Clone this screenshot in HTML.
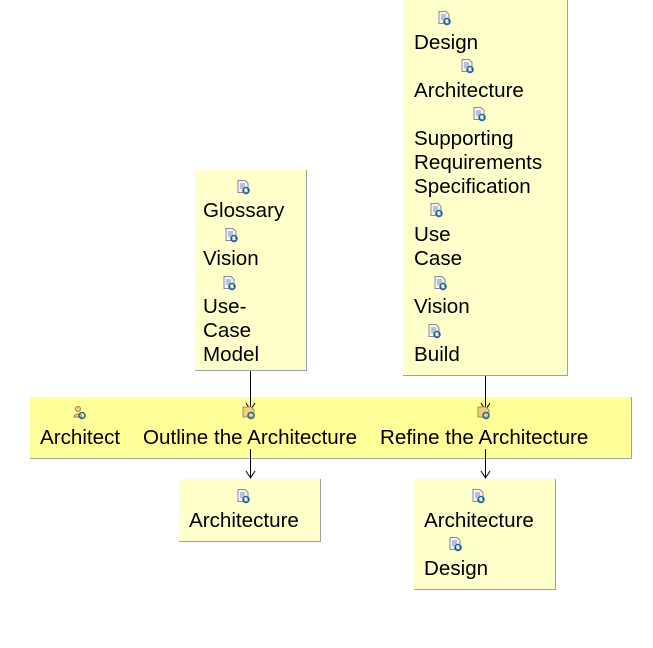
<!DOCTYPE html>
<html><head><meta charset="utf-8"><style>
body{margin:0;width:653px;height:648px;background:#fff;position:relative;overflow:hidden;font-family:"Liberation Sans",sans-serif;}
.b{position:absolute;background:#FFFFCC;border-right:1px solid #a0a0a0;border-bottom:1px solid #a0a0a0;box-sizing:border-box;}
.lane{position:absolute;left:30px;top:397px;width:602px;height:62px;background:#FFFF99;border-right:1px solid #a0a0a0;border-bottom:1px solid #a0a0a0;box-sizing:border-box;}
.t{position:absolute;font-size:20.6px;line-height:24px;color:#000;white-space:nowrap;}
.i{position:absolute;width:14px;height:15px;}
.l{position:absolute;width:1px;background:#000;}
</style></head><body>
<svg width="0" height="0" style="position:absolute"><defs>
<g id="doc"><path d="M1 0.5h7l3 3v9H1z" fill="#f4f4f4" stroke="#8a8a9a"/><path d="M3 4h5M3 6h5M3 8h4" stroke="#7a8ac0"/><circle cx="9" cy="10.5" r="3" fill="none" stroke="#1a6a9a" stroke-width="1.5"/><path d="M6 10l1.5 1.5M12 11l-1.5-1.5" stroke="#1a4a7a"/></g>
<g id="task"><path d="M1 2h8l3 3v7H1z" fill="#f0d080" stroke="#b09040"/><circle cx="9" cy="10.5" r="3" fill="none" stroke="#1a6a9a" stroke-width="1.5"/></g>
<g id="role"><circle cx="5" cy="4" r="2.5" fill="#f0d080" stroke="#a08030"/><path d="M1 12c0-4 8-4 8 0z" fill="#f0d080" stroke="#a08030"/><circle cx="9" cy="10.5" r="3" fill="none" stroke="#1a6a9a" stroke-width="1.5"/></g>
</defs></svg>

<div class="b" style="left:195px;top:170px;width:112px;height:201px"></div>
<div class="b" style="left:403px;top:0;width:165px;height:376px"></div>
<div class="lane"></div>
<div class="b" style="left:179px;top:479px;width:142px;height:63px"></div>
<div class="b" style="left:414px;top:479px;width:142px;height:111px"></div>

<div class="l" style="left:250px;top:371px;height:38px"></div>
<div class="l" style="left:485px;top:376px;height:33px"></div>
<div class="l" style="left:250px;top:449px;height:28px"></div>
<div class="l" style="left:485px;top:449px;height:28px"></div>
<svg style="position:absolute;left:0;top:0" width="653" height="648">
<path d="M246 403l4.5 7 4.5-7M481 403l4.5 7 4.5-7M246 471l4.5 7 4.5-7M481 471l4.5 7 4.5-7" fill="none" stroke="#000"/>
</svg>

<svg class="i" style="left:237px;top:180px"><use href="#doc"/></svg>
<svg class="i" style="left:225px;top:228px"><use href="#doc"/></svg>
<svg class="i" style="left:223px;top:276px"><use href="#doc"/></svg>
<div class="t" style="left:203px;top:199px">Glossary</div>
<div class="t" style="left:203px;top:247px">Vision</div>
<div class="t" style="left:203px;top:295px">Use-<br>Case<br>Model</div>

<svg class="i" style="left:438px;top:11px"><use href="#doc"/></svg>
<svg class="i" style="left:461px;top:59px"><use href="#doc"/></svg>
<svg class="i" style="left:473px;top:107px"><use href="#doc"/></svg>
<svg class="i" style="left:430px;top:203px"><use href="#doc"/></svg>
<svg class="i" style="left:434px;top:276px"><use href="#doc"/></svg>
<svg class="i" style="left:428px;top:324px"><use href="#doc"/></svg>
<div class="t" style="left:414px;top:31px">Design</div>
<div class="t" style="left:414px;top:79px">Architecture</div>
<div class="t" style="left:414px;top:127px">Supporting<br>Requirements<br>Specification</div>
<div class="t" style="left:414px;top:223px">Use<br>Case</div>
<div class="t" style="left:414px;top:295px">Vision</div>
<div class="t" style="left:414px;top:343px">Build</div>

<svg class="i" style="left:73px;top:405px"><use href="#role"/></svg>
<svg class="i" style="left:242px;top:405px"><use href="#task"/></svg>
<svg class="i" style="left:477px;top:405px"><use href="#task"/></svg>
<div class="t" style="left:40px;top:426px">Architect</div>
<div class="t" style="left:143px;top:426px">Outline the Architecture</div>
<div class="t" style="left:380px;top:426px">Refine the Architecture</div>

<svg class="i" style="left:237px;top:489px"><use href="#doc"/></svg>
<div class="t" style="left:189px;top:509px">Architecture</div>
<svg class="i" style="left:472px;top:489px"><use href="#doc"/></svg>
<svg class="i" style="left:449px;top:537px"><use href="#doc"/></svg>
<div class="t" style="left:424px;top:509px">Architecture</div>
<div class="t" style="left:424px;top:557px">Design</div>
</body></html>
